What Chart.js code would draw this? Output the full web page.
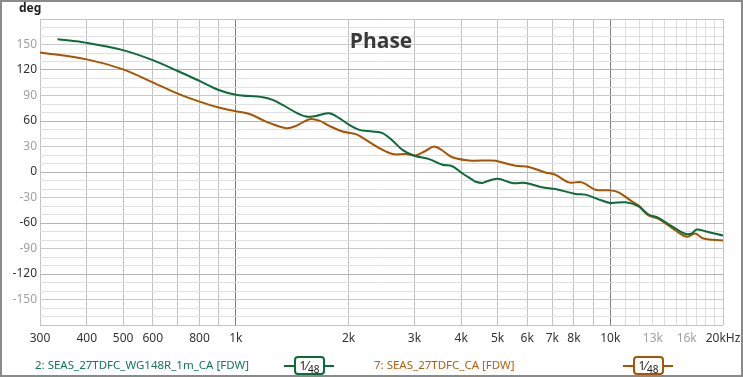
<!DOCTYPE html>
<html>
<head>
<meta charset="utf-8">
<script src="https://cdn.jsdelivr.net/npm/chart.js@4"></script>
<style>
    html, body { margin: 0; padding: 0; background: #fff; }
    #wrap { position: relative; width: 743px; height: 377px; }
    #grafico { position: absolute; left: 0; top: 0; }
    .legenda { position: absolute; top: 356px; font: 11.5px "Noto Sans", sans-serif; white-space: nowrap; line-height: 18px; }
    .simbolo { position: absolute; top: 356px; width: 50px; height: 19px; }
    .simbolo .linha { position: absolute; left: 0; right: 0; top: 9px; height: 2px; }
    .simbolo .caixa { position: absolute; left: 10px; top: 0; width: 27px; height: 15px; border: 2px solid; border-radius: 4px; background: #fff;
        font: 12px "Noto Sans", sans-serif; color: #222; text-align: center; line-height: 15px; }
    .simbolo .caixa small { font-size: 10px; position: relative; top: 3px; }
</style>
</head>
<body>
<div id="wrap">
    <canvas id="grafico" width="743" height="377"></canvas>
    <div class="legenda" style="left:35px; color:#13775a;">2: SEAS_27TDFC_WG148R_1m_CA [FDW]</div>
    <div class="simbolo" style="left:284px;"><div class="linha" style="background:#0b6b3a"></div><div class="caixa" style="border-color:#0b6b3a">1⁄<small>48</small></div></div>
    <div class="legenda" style="left:374px; color:#b5600f;">7: SEAS_27TDFC_CA [FDW]</div>
    <div class="simbolo" style="left:623px;"><div class="linha" style="background:#a85400"></div><div class="caixa" style="border-color:#a85400">1⁄<small>48</small></div></div>
</div>
<script>
// Curva 2: SEAS_27TDFC_WG148R_1m_CA [FDW]
const freqVerde = [334, 400, 500, 600, 700, 800, 900, 1000, 1180, 1255, 1334, 1449, 1540, 1638, 1777, 1889, 2009, 2136, 2318, 2464, 2620, 2786, 3000, 3282, 3561, 3786, 4026, 4281, 4371, 4551, 4646, 5000, 5469, 5939, 6574, 7137, 8070, 8580, 9497, 10000, 11000, 11898, 12648, 13447, 14592, 15842, 16500, 17013, 17911, 20000];
const faseVerde = [156.3, 151.9, 143.4, 131.6, 118.8, 107.1, 96.5, 91, 87.9, 84.8, 78.9, 69.9, 65.2, 66, 69.2, 63.3, 55.5, 49.6, 47.6, 45.7, 37, 26.1, 19.1, 15.2, 8.6, 6.8, -1.5, -9, -11.5, -12.9, -11.5, -7.9, -12.9, -12.9, -18, -20, -25.8, -26.6, -33.6, -36.4, -35.6, -40.3, -50, -54, -63.8, -72.7, -72.3, -67.6, -69.6, -74.8];

// Curva 7: SEAS_27TDFC_CA [FDW]
const freqLaranja = [300, 400, 500, 600, 700, 800, 900, 1000, 1088, 1205, 1363, 1449, 1572, 1671, 1777, 1928, 2093, 2226, 2415, 2620, 2844, 3024, 3216, 3383, 3561, 3786, 4194, 4740, 4942, 5584, 6061, 6711, 7137, 7744, 8405, 9123, 10000, 10524, 11418, 11898, 12648, 13447, 14898, 16000, 16845, 17724, 20000];
const faseLaranja = [140.7, 132.5, 120.7, 105.5, 92.2, 82.8, 75.8, 71.5, 68.3, 59.3, 51.6, 54.3, 62.1, 60.5, 54.3, 47.6, 44.5, 37.9, 28.1, 21.1, 21.1, 19.5, 25, 30, 25.3, 17.3, 13.6, 13.6, 13.2, 7.4, 5.9, -0.5, -3.2, -12.2, -12.2, -20.8, -21.6, -23.9, -34.5, -39.5, -51.2, -55.1, -68.5, -76.2, -72.3, -78.2, -80.5];

// Linhas de grade e rótulos do eixo de frequência
const gradeFreq = [300, 400, 500, 600, 700, 800, 900, 1000, 2000, 3000, 4000, 5000, 6000, 7000, 8000, 9000, 10000,
    11000, 12000, 13000, 14000, 15000, 16000, 17000, 18000, 19000, 20000];
const rotulosFreq = { 300: '300', 400: '400', 500: '500', 600: '600', 800: '800', 1000: '1k', 2000: '2k', 3000: '3k', 4000: '4k',
    5000: '5k', 6000: '6k', 7000: '7k', 8000: '8k', 10000: '10k', 13000: '13k', 16000: '16k', 20000: '20kHz' };
const rotulosFreqClaros = [13000, 16000];
const rotulosFaseClaros = [150, 90, 30, -30, -90, -150];

const FONTE = '"Noto Sans", sans-serif';

const corGradeX = (v) => {
    if (v === 1000 || v === 10000) return '#7f7f7f';
    if (v > 10000 && v < 20000) return '#dedede';
    return '#c2c2c2';
};
const corGradeY = (v) => {
    if (v === 180 || v === -180) return '#c2c2c2';
    if (v % 60 === 0) return '#b4b4b4';
    if (v % 30 === 0) return '#c8c8c8';
    return '#e0e0e0';
};

const decoracao = {
    id: 'decoracao',
    beforeDatasetsDraw(chart) {
        const c = chart.ctx;
        c.save();
        c.fillStyle = '#3a3a3a';
        c.font = 'bold 21px "Open Sans", sans-serif';
        c.textAlign = 'center';
        c.textBaseline = 'middle';
        c.fillText('Phase', 381, 42);
        c.restore();
    },
    afterDraw(chart) {
        const c = chart.ctx;
        c.save();
        c.strokeStyle = '#8a8a8a';
        c.lineWidth = 2;
        c.strokeRect(1, 1, 741, 375);
        c.fillStyle = '#222';
        c.font = 'bold 12px "Noto Sans", sans-serif';
        c.textBaseline = 'middle';
        c.fillText('deg', 19, 9);
        c.restore();
    }
};

const pontos = (fs, vs) => fs.map((f, i) => ({ x: f, y: vs[i] }));

new Chart(document.getElementById('grafico'), {
    type: 'line',
    data: {
        datasets: [{
            label: '2: SEAS_27TDFC_WG148R_1m_CA [FDW]',
            data: pontos(freqVerde, faseVerde),
            borderColor: '#0b6b3a',
            borderWidth: 2,
            pointRadius: 0,
            tension: 0.35
        }, {
            label: '7: SEAS_27TDFC_CA [FDW]',
            data: pontos(freqLaranja, faseLaranja),
            borderColor: '#a85400',
            borderWidth: 2,
            pointRadius: 0,
            tension: 0.35
        }]
    },
    options: {
        responsive: false,
        devicePixelRatio: 1,
        animation: false,
        layout: { padding: { top: 19, right: 20, bottom: 22, left: 0 } },
        plugins: { legend: { display: false }, tooltip: { enabled: false } },
        scales: {
            x: {
                type: 'logarithmic',
                min: 300,
                max: 20000,
                afterBuildTicks: (s) => { s.ticks = gradeFreq.map(v => ({ value: v })); },
                afterFit: (s) => { s.height = 30; s.paddingLeft = 0; s.paddingRight = 0; },
                grid: { color: (ctx) => corGradeX(ctx.tick.value), drawTicks: false, lineWidth: 1 },
                border: { display: false },
                ticks: {
                    autoSkip: false,
                    maxRotation: 0,
                    padding: 6,
                    font: { family: FONTE, size: 12 },
                    color: (ctx) => rotulosFreqClaros.includes(ctx.tick.value) ? '#a0a0a0' : '#333',
                    callback: (v) => rotulosFreq[v] || ''
                }
            },
            y: {
                min: -180,
                max: 180,
                afterFit: (s) => { s.width = 40; s.paddingTop = 0; s.paddingBottom = 0; },
                grid: { color: (ctx) => corGradeY(ctx.tick.value), drawTicks: false, lineWidth: 1 },
                border: { display: false },
                ticks: {
                    stepSize: 10,
                    autoSkip: false,
                    padding: 3,
                    font: { family: FONTE, size: 12 },
                    color: (ctx) => rotulosFaseClaros.includes(ctx.tick.value) ? '#a0a0a0' : '#333',
                    callback: (v) => (v % 30 === 0 && Math.abs(v) !== 180) ? String(v) : ''
                }
            }
        }
    },
    plugins: [decoracao]
});
</script>
</body>
</html>
